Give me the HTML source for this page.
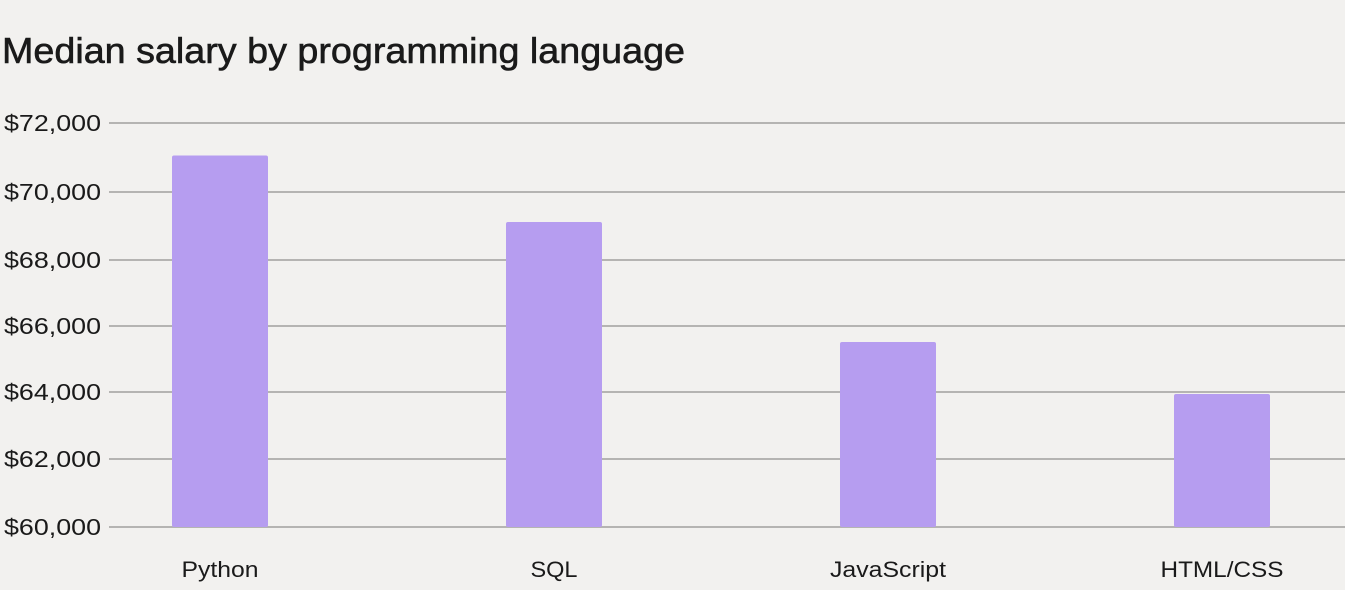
<!DOCTYPE html>
<html><head><style>
body{margin:0;width:1345px;height:585px;background:#f2f1ef;overflow:hidden;font-family:"Liberation Sans",sans-serif;}
</style></head><body>
<svg width="1345" height="585" xmlns="http://www.w3.org/2000/svg">
<rect width="1345" height="585" fill="#f2f1ef"/>
<text x="2" y="63" font-size="36" fill="#1a1a1a" stroke="#1a1a1a" stroke-width="0.6" textLength="683" lengthAdjust="spacingAndGlyphs" font-family="Liberation Sans, sans-serif">Median salary by programming language</text>
<g stroke="#b5b4b2" stroke-width="2">
<line x1="109" x2="1345" y1="123" y2="123"/>
<line x1="109" x2="1345" y1="192" y2="192"/>
<line x1="109" x2="1345" y1="260" y2="260"/>
<line x1="109" x2="1345" y1="326" y2="326"/>
<line x1="109" x2="1345" y1="392" y2="392"/>
<line x1="109" x2="1345" y1="459" y2="459"/>
<line x1="109" x2="1345" y1="527" y2="527"/>
</g>
<g font-size="23" fill="#1a1a1a" font-family="Liberation Sans, sans-serif">
<text x="4" y="131" textLength="97" lengthAdjust="spacingAndGlyphs">$72,000</text>
<text x="4" y="200" textLength="97" lengthAdjust="spacingAndGlyphs">$70,000</text>
<text x="4" y="268" textLength="97" lengthAdjust="spacingAndGlyphs">$68,000</text>
<text x="4" y="334" textLength="97" lengthAdjust="spacingAndGlyphs">$66,000</text>
<text x="4" y="400" textLength="97" lengthAdjust="spacingAndGlyphs">$64,000</text>
<text x="4" y="467" textLength="97" lengthAdjust="spacingAndGlyphs">$62,000</text>
<text x="4" y="535" textLength="97" lengthAdjust="spacingAndGlyphs">$60,000</text>
</g>
<g fill="#b69df0">
<rect x="172" y="155.5" width="96" height="371.5" rx="2"/>
<rect x="506" y="222" width="96" height="305" rx="2"/>
<rect x="840" y="342" width="96" height="185" rx="2"/>
<rect x="1174" y="394" width="96" height="133" rx="2"/>
</g>
<g font-size="22" fill="#1a1a1a" text-anchor="middle" font-family="Liberation Sans, sans-serif">
<text x="220" y="577" textLength="77" lengthAdjust="spacingAndGlyphs">Python</text>
<text x="554" y="577" textLength="47" lengthAdjust="spacingAndGlyphs">SQL</text>
<text x="888" y="577" textLength="116" lengthAdjust="spacingAndGlyphs">JavaScript</text>
<text x="1222" y="577" textLength="123" lengthAdjust="spacingAndGlyphs">HTML/CSS</text>
</g>
</svg>
</body></html>
